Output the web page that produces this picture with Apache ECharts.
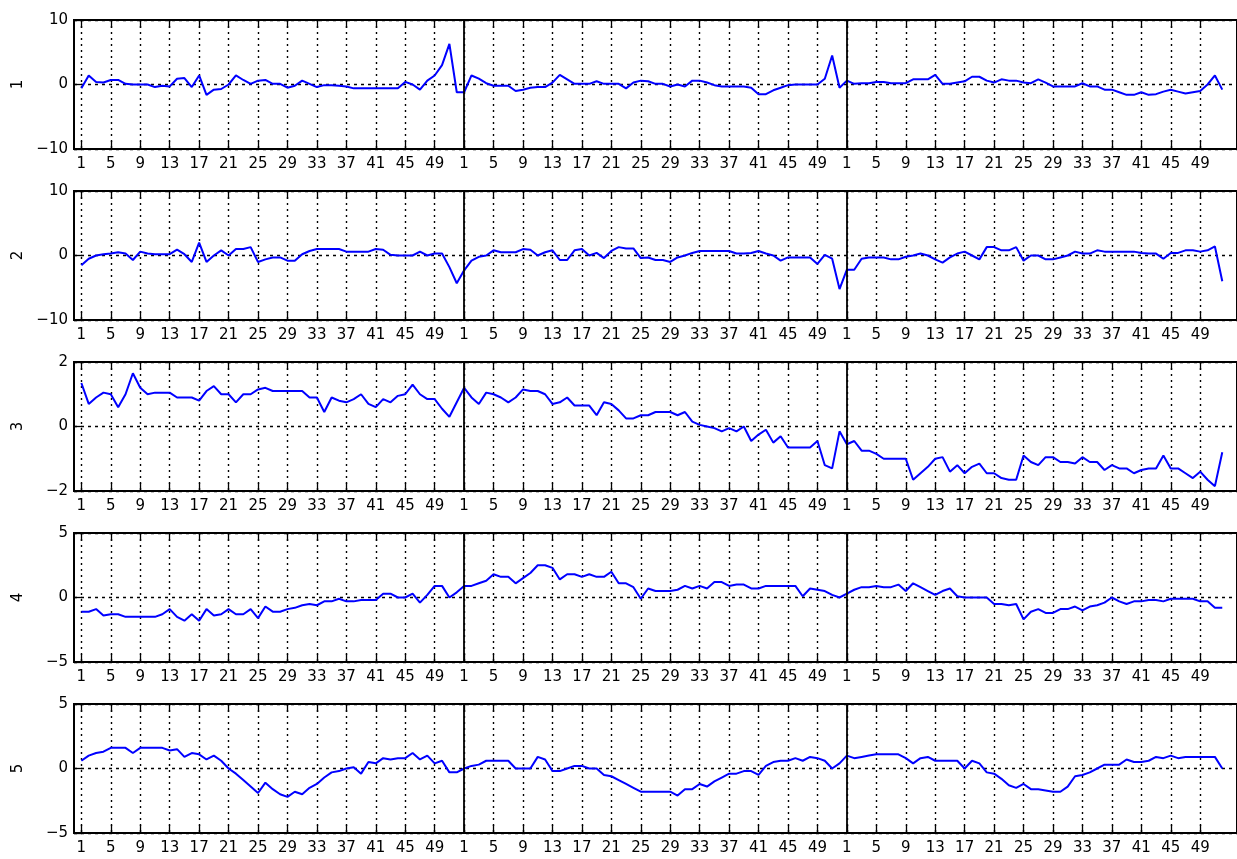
<!DOCTYPE html>
<html><head><meta charset="utf-8">
<script src="https://cdn.jsdelivr.net/npm/echarts@6/dist/echarts.min.js"></script>
<style>html,body{margin:0;padding:0;background:#fff}#c{width:1237px;height:859px}</style>
</head><body><div id="c"></div>
<script>
// ---- data ----
const segmentLength = 52;
const segmentCount = 3;
const tickLabels = [1,5,9,13,17,21,25,29,33,37,41,45,49];
const panelNames = ['1','2','3','4','5'];
const yMin = [-10,-10,-2,-5,-5];
const yMax = [10,10,2,5,5];
const yStep = [10,10,2,5,5];

const panel1 = [
 -0.6,1.4,0.4,0.3,0.7,0.7,0.1,0,0,0,-0.4,-0.2,-0.3,0.9,1.0,-0.4,1.4,-1.6,-0.8,-0.7,0.0,1.4,0.7,0.1,0.6,0.7,0.1,0.1,-0.5,-0.2,0.6,0.1,-0.4,-0.1,-0.1,-0.2,-0.3,-0.6,-0.6,-0.6,-0.6,-0.6,-0.6,-0.6,0.4,0.0,-0.8,0.6,1.4,3.0,6.3,-1.2,
 -1.2,1.4,0.9,0.2,-0.2,-0.2,-0.2,-1.0,-0.8,-0.5,-0.4,-0.4,0.3,1.5,0.8,0.1,0.1,0.1,0.5,0.1,0.1,0.1,-0.6,0.3,0.6,0.5,0.1,0.1,-0.3,0.0,-0.3,0.6,0.6,0.3,-0.1,-0.3,-0.3,-0.3,-0.3,-0.5,-1.5,-1.5,-0.9,-0.5,-0.1,0.0,0.0,0.0,0.0,0.9,4.5,-0.5,
 0.6,0.1,0.2,0.2,0.4,0.4,0.2,0.2,0.2,0.8,0.8,0.8,1.5,0.1,0.1,0.3,0.5,1.2,1.2,0.6,0.3,0.8,0.6,0.6,0.3,0.2,0.8,0.3,-0.3,-0.3,-0.3,-0.3,0.2,-0.3,-0.3,-0.8,-0.8,-1.2,-1.6,-1.6,-1.2,-1.6,-1.5,-1.1,-0.8,-1.1,-1.4,-1.2,-1.0,0.0,1.4,-0.8
];
const panel2 = [
 -1.5,-0.5,0.0,0.2,0.3,0.5,0.3,-0.7,0.6,0.3,0.2,0.2,0.2,0.9,0.2,-1.0,2.0,-1.0,0.0,0.8,0.0,1.0,1.0,1.3,-1.0,-0.6,-0.3,-0.3,-0.8,-0.8,0.2,0.7,1.0,1.0,1.0,1.0,0.6,0.6,0.6,0.6,1.0,0.9,0.1,0.0,0.0,0.0,0.6,0.0,0.3,0.3,-1.8,-4.3,
 -2.3,-0.8,-0.2,0.0,0.8,0.5,0.5,0.5,1.0,0.9,0.0,0.5,0.8,-0.7,-0.7,0.8,1.0,0.0,0.4,-0.4,0.7,1.3,1.1,1.1,-0.4,-0.3,-0.7,-0.7,-1.0,-0.3,0.0,0.4,0.7,0.7,0.7,0.7,0.7,0.3,0.3,0.4,0.7,0.3,0.0,-0.8,-0.3,-0.3,-0.3,-0.3,-1.3,0.1,-0.5,-5.2,
 -2.2,-2.2,-0.5,-0.3,-0.3,-0.3,-0.6,-0.6,-0.2,0.0,0.3,0.0,-0.6,-1.1,-0.3,0.3,0.6,0.0,-0.6,1.3,1.3,0.8,0.8,1.3,-0.8,0.0,0.0,-0.6,-0.6,-0.3,0.0,0.6,0.3,0.3,0.8,0.6,0.6,0.6,0.6,0.6,0.4,0.3,0.3,-0.5,0.4,0.4,0.8,0.8,0.6,0.8,1.4,-4.0
];
const panel3 = [
 1.35,0.7,0.9,1.05,1.0,0.6,1.0,1.65,1.2,1.0,1.05,1.05,1.05,0.9,0.9,0.9,0.8,1.1,1.25,1.0,1.0,0.75,1.0,1.0,1.15,1.2,1.1,1.1,1.1,1.1,1.1,0.9,0.9,0.45,0.9,0.8,0.75,0.85,1.0,0.7,0.6,0.85,0.75,0.95,1.0,1.3,1.0,0.85,0.85,0.55,0.3,0.75,
 1.2,0.9,0.7,1.05,1.0,0.9,0.75,0.9,1.15,1.1,1.1,1.0,0.7,0.75,0.9,0.65,0.65,0.65,0.35,0.75,0.7,0.5,0.25,0.25,0.35,0.35,0.45,0.45,0.45,0.35,0.45,0.15,0.05,0.0,-0.05,-0.15,-0.05,-0.15,0.0,-0.45,-0.25,-0.1,-0.5,-0.3,-0.65,-0.65,-0.65,-0.65,-0.45,-1.2,-1.3,-0.15,
 -0.55,-0.45,-0.75,-0.75,-0.85,-1.0,-1.0,-1.0,-1.0,-1.65,-1.45,-1.25,-1.0,-0.95,-1.4,-1.2,-1.45,-1.25,-1.15,-1.45,-1.45,-1.6,-1.65,-1.65,-0.9,-1.1,-1.2,-0.95,-0.95,-1.1,-1.1,-1.15,-0.95,-1.1,-1.1,-1.35,-1.2,-1.3,-1.3,-1.45,-1.35,-1.3,-1.3,-0.9,-1.3,-1.3,-1.45,-1.6,-1.4,-1.65,-1.85,-0.8
];
const panel4 = [
 -1.1,-1.1,-0.9,-1.4,-1.3,-1.3,-1.5,-1.5,-1.5,-1.5,-1.5,-1.3,-0.9,-1.5,-1.8,-1.3,-1.8,-0.9,-1.4,-1.3,-0.9,-1.3,-1.3,-0.9,-1.6,-0.7,-1.1,-1.1,-0.9,-0.8,-0.6,-0.5,-0.6,-0.3,-0.3,-0.1,-0.3,-0.3,-0.2,-0.2,-0.2,0.3,0.3,0.0,0.0,0.3,-0.4,0.2,0.9,0.9,0.0,0.4,
 0.9,0.9,1.1,1.3,1.8,1.6,1.6,1.1,1.5,1.9,2.5,2.5,2.3,1.4,1.8,1.8,1.6,1.8,1.6,1.6,2.0,1.1,1.1,0.8,-0.1,0.7,0.5,0.5,0.5,0.6,0.9,0.7,0.9,0.7,1.2,1.2,0.9,1.0,1.0,0.7,0.7,0.9,0.9,0.9,0.9,0.9,0.1,0.7,0.6,0.5,0.2,0.0,
 0.3,0.6,0.8,0.8,0.9,0.8,0.8,1.0,0.5,1.1,0.8,0.5,0.2,0.5,0.7,0.1,0.0,0.0,0.0,0.0,-0.5,-0.5,-0.6,-0.5,-1.7,-1.1,-0.9,-1.2,-1.2,-0.9,-0.9,-0.7,-1.0,-0.7,-0.6,-0.4,0.0,-0.3,-0.5,-0.3,-0.3,-0.2,-0.2,-0.3,-0.1,-0.1,-0.1,-0.1,-0.3,-0.3,-0.8,-0.8
];
const panel5 = [
 0.6,1.0,1.2,1.3,1.6,1.6,1.6,1.2,1.6,1.6,1.6,1.6,1.4,1.5,0.9,1.2,1.1,0.7,1.0,0.6,0.0,-0.4,-0.9,-1.4,-1.9,-1.1,-1.6,-2.0,-2.2,-1.8,-2.0,-1.5,-1.2,-0.7,-0.3,-0.2,0.0,0.1,-0.4,0.5,0.4,0.8,0.7,0.8,0.8,1.2,0.7,1.0,0.4,0.6,-0.3,-0.3,
 0.0,0.2,0.3,0.6,0.6,0.6,0.6,0.0,0.0,0.0,0.9,0.7,-0.2,-0.2,0.0,0.2,0.2,0.0,0.0,-0.5,-0.6,-0.9,-1.2,-1.5,-1.8,-1.8,-1.8,-1.8,-1.8,-2.1,-1.6,-1.6,-1.2,-1.4,-1.0,-0.7,-0.4,-0.4,-0.2,-0.2,-0.5,0.2,0.5,0.6,0.6,0.8,0.6,0.9,0.8,0.6,0.0,0.4,
 1.0,0.8,0.9,1.0,1.1,1.1,1.1,1.1,0.8,0.4,0.8,0.9,0.6,0.6,0.6,0.6,0.0,0.6,0.4,-0.3,-0.4,-0.8,-1.3,-1.5,-1.2,-1.6,-1.6,-1.7,-1.8,-1.8,-1.4,-0.6,-0.5,-0.3,0.0,0.3,0.3,0.3,0.7,0.5,0.5,0.6,0.9,0.8,1.0,0.8,0.9,0.9,0.9,0.9,0.9,0.0
];
const panels = [panel1, panel2, panel3, panel4, panel5];

// ---- build ----
const xMaxIndex = 158;
const categories = [];
for (let i = 0; i <= xMaxIndex; i++) categories.push(String(i));
const tickSet = new Set();
const tickText = {};
for (let s = 0; s < segmentCount; s++) {
  tickLabels.forEach(l => { const idx = s * segmentLength + l; tickSet.add(idx); tickText[idx] = String(l); });
}
const isTick = (idx) => tickSet.has(idx);
const boundaries = [];
for (let s = 1; s < segmentCount; s++) boundaries.push(String(s * segmentLength + 1));

const FONT = 'DejaVu Sans';
const tops = [20, 191, 362, 533, 704];
const H = 129;
const grids = [], xAxes = [], yAxes = [], series = [];
panels.forEach((vals, p) => {
  grids.push({left: 74, right: 0, top: tops[p], height: H, show: true,
    borderColor: '#000', borderWidth: 2, backgroundColor: '#fff'});
  const commonX = {type: 'category', data: categories, boundaryGap: false, gridIndex: p,
    axisLine: {show: true, onZero: false, lineStyle: {color: '#000', width: 2}},
    axisTick: {show: true, inside: true, length: 8, interval: (i) => isTick(i), lineStyle: {color: '#000', width: 1.3}}};
  xAxes.push(Object.assign({}, commonX, {position: 'bottom',
    axisLabel: {show: true, interval: (i) => isTick(i), formatter: (v, i) => tickText[+v] || '',
      color: '#000', fontSize: 15, fontFamily: FONT, margin: 8},
    splitLine: {show: true, interval: (i) => isTick(i), lineStyle: {color: '#000', type: [2, 4], width: 1.4}}}));
  xAxes.push(Object.assign({}, commonX, {position: 'top', axisLabel: {show: false}, splitLine: {show: false}}));
  yAxes.push({type: 'value', gridIndex: p, min: yMin[p], max: yMax[p], interval: yStep[p],
    name: panelNames[p], nameLocation: 'middle', nameGap: 48, nameRotate: 90,
    nameTextStyle: {color: '#000', fontSize: 15, fontFamily: FONT},
    axisLine: {show: true, lineStyle: {color: '#000', width: 2}},
    axisTick: {show: true, inside: true, length: 8, lineStyle: {color: '#000', width: 1.3}},
    axisLabel: {color: '#000', fontSize: 15, fontFamily: FONT, margin: 6,
      formatter: (v) => String(v).replace('-', '\u2212')},
    splitLine: {show: true, lineStyle: {color: '#000', type: [3, 4], width: 1.4}}});
  const data = ['-'].concat(vals);
  while (data.length < categories.length) data.push('-');
  series.push({type: 'line', xAxisIndex: 2 * p, yAxisIndex: p, data: data,
    symbol: 'none', showSymbol: false, connectNulls: false,
    lineStyle: {color: '#0000ff', width: 2}, itemStyle: {color: '#0000ff'},
    silent: true, animation: false,
    markLine: {silent: true, symbol: ['none', 'none'], label: {show: false},
      lineStyle: {color: '#000', type: 'solid', width: 1.8},
      data: boundaries.map(b => ({xAxis: b}))}});
});

const chart = echarts.init(document.getElementById('c'), null, {renderer: 'canvas'});
chart.setOption({animation: false, backgroundColor: '#fff', grid: grids, xAxis: xAxes, yAxis: yAxes, series: series});
</script></body></html>
